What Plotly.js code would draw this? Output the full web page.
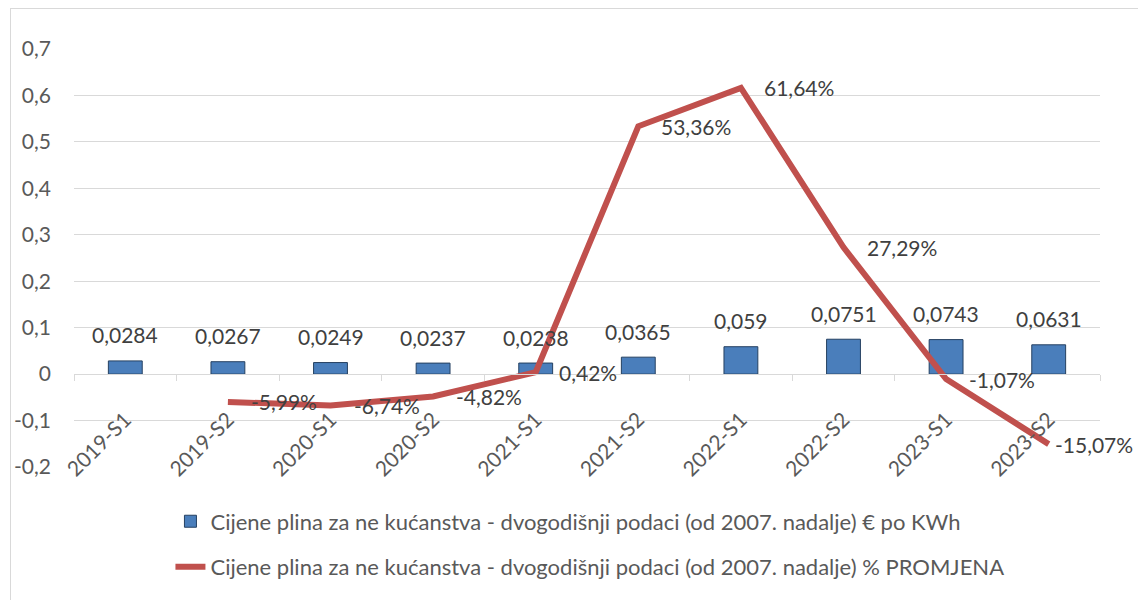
<!DOCTYPE html>
<html>
<head>
<meta charset="utf-8">
<script src="https://cdn.plot.ly/plotly-3.0.1.min.js"></script>
<style>
  html, body { margin: 0; padding: 0; background: #ffffff; }
  #wrap { position: relative; width: 1138px; height: 600px; }
  #chart { width: 1138px; height: 600px; }
  #frame { position: absolute; left: 10px; top: 8px; width: 1140px; height: 600px;
           border: 1px solid #d9d9d9; pointer-events: none; box-sizing: border-box; }
</style>
</head>
<body>
<div id="wrap">
  <div id="chart"></div>
  <div id="frame"></div>
</div>
<script>
// ---- data ----
var categories = ["2019-S1","2019-S2","2020-S1","2020-S2","2021-S1","2021-S2","2022-S1","2022-S2","2023-S1","2023-S2"];
var priceValues = [0.0284, 0.0267, 0.0249, 0.0237, 0.0238, 0.0365, 0.059, 0.0751, 0.0743, 0.0631];
var priceLabels = ["0,0284","0,0267","0,0249","0,0237","0,0238","0,0365","0,059","0,0751","0,0743","0,0631"];
var changeCategories = ["2019-S2","2020-S1","2020-S2","2021-S1","2021-S2","2022-S1","2022-S2","2023-S1","2023-S2"];
var changePercent = [-5.99, -6.74, -4.82, 0.42, 53.36, 61.64, 27.29, -1.07, -15.07];
var changeLabels = ["-5,99%","-6,74%","-4,82%","0,42%","53,36%","61,64%","27,29%","-1,07%","-15,07%"];
var yTickVals = [-0.2, -0.1, 0, 0.1, 0.2, 0.3, 0.4, 0.5, 0.6, 0.7];
var yTickLabels = ["-0,2","-0,1","0","0,1","0,2","0,3","0,4","0,5","0,6","0,7"];
var seriesNames = [
  "Cijene plina za ne kućanstva - dvogodišnji podaci (od 2007. nadalje) € po KWh",
  "Cijene plina za ne kućanstva - dvogodišnji podaci (od 2007. nadalje) % PROMJENA"
];
var yRange = [-0.2, 0.7];

// ---- traces ----
var changeValues = changePercent.map(function (v) { return v / 100; });

var barTrace = {
  type: "bar",
  name: seriesNames[0],
  x: categories,
  y: priceValues,
  width: 0.33,
  marker: { color: "#4a7ebb", line: { color: "#254061", width: 1 } },
  legendgroup: "a",
  hoverinfo: "x+y"
};
var lineTrace = {
  type: "scatter",
  mode: "lines",
  name: seriesNames[1],
  x: changeCategories,
  y: changeValues,
  line: { color: "#c0504d", width: 6 },
  legendgroup: "b",
  cliponaxis: false,
  hoverinfo: "x+y"
};

var labelFont = { family: "Lato, 'Noto Sans', sans-serif", size: 21, color: "#404040" };
var annotations = [];
categories.forEach(function (c, i) {
  annotations.push({
    x: c, y: priceValues[i], xref: "x", yref: "y",
    text: priceLabels[i], showarrow: false,
    xanchor: "center", yanchor: "middle", yshift: 26,
    font: labelFont
  });
});
changeCategories.forEach(function (c, i) {
  var last = (i === changeCategories.length - 1);
  annotations.push({
    x: c, y: changeValues[i], xref: "x", yref: "y",
    text: changeLabels[i], showarrow: false,
    xanchor: "left", yanchor: "middle", xshift: last ? 4 : 21,
    font: labelFont
  });
});

var axisFont = { family: "Lato, 'Noto Sans', sans-serif", size: 21, color: "#595959" };

var layout = {
  width: 1138, height: 600,
  margin: { l: 74, r: 38, t: 49, b: 130 },
  paper_bgcolor: "rgba(0,0,0,0)",
  plot_bgcolor: "rgba(0,0,0,0)",
  showlegend: true,
  bargap: 0.67,
  xaxis: {
    type: "category",
    range: [-0.5, categories.length - 0.5],
    autorange: false,
    anchor: "free",
    position: (0 - yRange[0]) / (yRange[1] - yRange[0]),
    showline: true, linecolor: "#d9d9d9", linewidth: 1,
    ticks: "outside", tickson: "boundaries", ticklen: 6, tickcolor: "#d9d9d9",
    tickangle: -45, showgrid: false, zeroline: false,
    tickfont: axisFont,
    ticklabelstandoff: 24
  },
  yaxis: {
    range: yRange,
    tickvals: yTickVals, ticktext: yTickLabels,
    showgrid: true, gridcolor: "#d9d9d9", gridwidth: 1,
    zeroline: false, showline: false, ticks: "",
    tickfont: axisFont,
    ticklabelstandoff: 22
  },
  legend: {
    orientation: "v",
    x: 0.094, xanchor: "left",
    y: -0.08, yanchor: "top",
    traceorder: "grouped",
    tracegroupgap: 14,
    font: { family: "Lato, 'Noto Sans', sans-serif", size: 22, color: "#595959" },
    bgcolor: "rgba(0,0,0,0)"
  },
  annotations: annotations
};

Plotly.newPlot("chart", [barTrace, lineTrace], layout, { displayModeBar: false, staticPlot: true });
</script>
</body>
</html>
